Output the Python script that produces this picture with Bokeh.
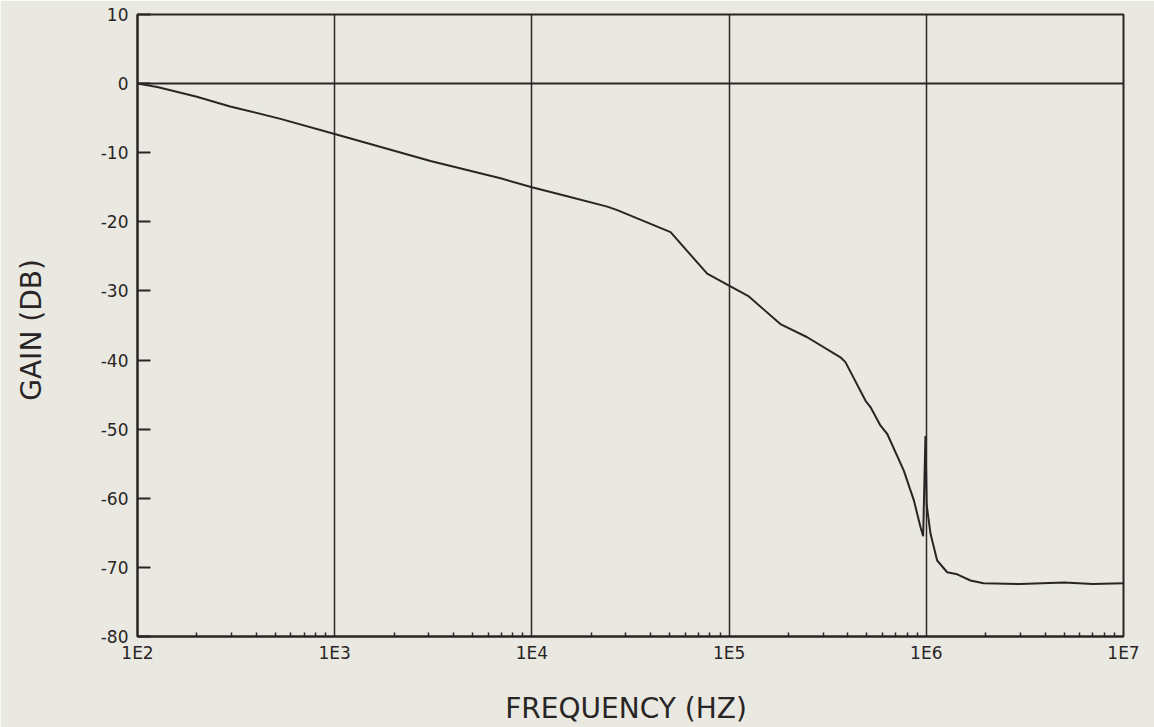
from bokeh.plotting import figure
from bokeh.models import FixedTicker, CustomJSTickFormatter
from bokeh.embed import file_html
from bokeh.resources import INLINE

# Frequency (Hz) and gain (dB)
freq = [100, 126, 200, 295, 531, 1000, 3060, 6930, 10000, 15100, 24100, 27100,
        50500, 77400, 101000, 126000, 182000, 249000, 367000, 389000, 492000,
        521000, 586000, 634000, 769000, 865000, 935000, 964000, 990000, 1005000,
        1050000, 1135000, 1276000, 1435000, 1675000, 1950000, 3000000, 5000000,
        7000000, 10000000]
gain = [0.0, -0.5, -1.9, -3.3, -5.1, -7.3, -11.2, -13.7, -15.0, -16.3, -17.8, -18.3,
        -21.5, -27.5, -29.3, -30.8, -34.8, -36.7, -39.6, -40.3, -45.9,
        -46.8, -49.5, -50.7, -56.0, -60.3, -64.2, -65.5, -51.0, -61.0,
        -65.1, -69.0, -70.7, -71.0, -71.9, -72.3, -72.4, -72.2,
        -72.4, -72.3]

decades = [100, 1000, 10000, 100000, 1000000, 10000000]
y_ticks = [-80, -70, -60, -50, -40, -30, -20, -10, 0, 10]
x_title = "FREQUENCY  (HZ)"
y_title = "GAIN  (DB)"

BG = "#e9e9e2"
INK = "#2a2525"
FONT = "DejaVu Sans"

p = figure(width=1154, height=727, x_axis_type="log",
           x_range=(100, 10000000), y_range=(-80, 10),
           output_backend="svg", toolbar_location=None,
           min_border_left=137, min_border_right=31,
           min_border_top=14, min_border_bottom=91)
p.background_fill_color = BG
p.border_fill_color = BG
p.outline_line_color = INK
p.outline_line_width = 2
p.outline_line_alpha = 1.0

minor = [d * k for d in decades[:-1] for k in range(2, 10)]
xt = FixedTicker(ticks=decades, minor_ticks=minor)
p.xaxis.ticker = xt
p.xaxis.formatter = CustomJSTickFormatter(code="return '1E' + Math.round(Math.log10(tick));")
p.xgrid.ticker = FixedTicker(ticks=decades)
p.xgrid.grid_line_color = INK
p.xgrid.grid_line_width = 1.5
p.xgrid.grid_line_alpha = 1.0

p.yaxis.ticker = FixedTicker(ticks=y_ticks)
p.yaxis.formatter = CustomJSTickFormatter(code="return tick.toFixed(0);")
p.ygrid.ticker = FixedTicker(ticks=[0])
p.ygrid.grid_line_color = INK
p.ygrid.grid_line_width = 2
p.ygrid.grid_line_alpha = 1.0

for ax in (p.xaxis[0], p.yaxis[0]):
    ax.axis_line_color = INK
    ax.axis_line_width = 2
    ax.major_tick_line_color = INK
    ax.major_tick_line_width = 2
    ax.minor_tick_line_color = INK
    ax.minor_tick_line_width = 1.5
    ax.major_label_text_font = FONT
    ax.major_label_text_font_size = "17px"
    ax.major_label_text_color = INK
    ax.axis_label_text_font = FONT
    ax.axis_label_text_font_size = "28px"
    ax.axis_label_text_font_style = "normal"
    ax.axis_label_text_color = INK

p.xaxis.major_tick_in = 0
p.xaxis.major_tick_out = 0
p.xaxis.minor_tick_in = 4
p.xaxis.minor_tick_out = 0
p.xaxis.major_label_standoff = 6
p.xaxis.axis_label = x_title
p.xaxis.axis_label_standoff = 26

p.yaxis.major_tick_in = 13
p.yaxis.major_tick_out = 0
p.yaxis.minor_tick_in = 0
p.yaxis.minor_tick_out = 0
p.yaxis.major_label_standoff = 9
p.yaxis.axis_label = y_title
p.yaxis.axis_label_standoff = 50

p.line(freq, gain, line_color=INK, line_width=2)

html = file_html(p, INLINE)
html = html.replace("<body>", '<body style="background:%s">' % BG, 1)
open("out.html", "w").write(html)
